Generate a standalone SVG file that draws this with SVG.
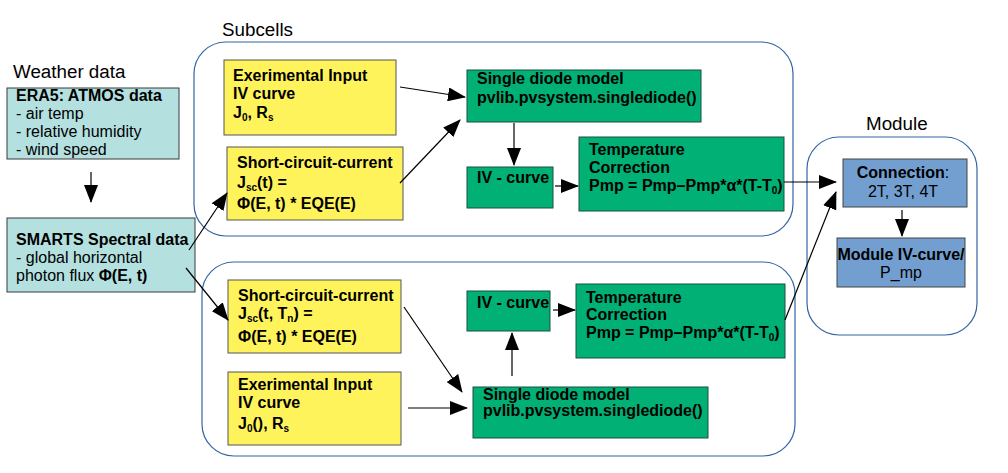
<svg xmlns="http://www.w3.org/2000/svg" width="1008" height="473" viewBox="0 0 1008 473">
<defs>
<marker id="ah" markerUnits="userSpaceOnUse" markerWidth="18" markerHeight="14" refX="17" refY="7" orient="auto">
<path d="M0,0 L18,7 L0,14 Z" fill="#000"/>
</marker>
<style>
.t{font-family:"Liberation Sans",Arial,sans-serif;font-size:16px;font-weight:bold;fill:#000}
.n{font-weight:normal}
.lbl{font-family:"Liberation Sans",Arial,sans-serif;font-size:18.8px;fill:#000}
.sub{font-size:10px}
.cont{fill:none;stroke:#3465a4;stroke-width:1.2}
.wb{fill:#b4e0e0;stroke:#3a3a3a;stroke-width:1}
.yb{fill:#fff35c;stroke:#555;stroke-width:1}
.gb{fill:#00b074;stroke:#1a5040;stroke-width:1}
.bb{fill:#729fcf;stroke:#444;stroke-width:1}
.c{stroke:#000;stroke-width:1.2;fill:none;marker-end:url(#ah)}
</style>
</defs>
<rect width="1008" height="473" fill="#fff"/>
<g id="containers">
<rect class="cont" x="194" y="42" width="599" height="194" rx="32"/>
<rect class="cont" x="202" y="262" width="593" height="194" rx="32"/>
<rect class="cont" x="807" y="137" width="170" height="198" rx="32"/>
<text class="lbl" x="13" y="78">Weather data</text>
<text class="lbl" x="222" y="36">Subcells</text>
<text class="lbl" x="866" y="130">Module</text>
</g>
<g id="era5">
<rect class="wb" x="7" y="88" width="172" height="71"/>
<text class="t" x="16" y="101">ERA5: ATMOS data</text>
<text class="t n" x="16" y="119">- air temp</text>
<text class="t n" x="16" y="137">- relative humidity</text>
<text class="t n" x="16" y="155">- wind speed</text>
</g>
<g id="smarts">
<rect class="wb" x="7" y="218" width="188" height="74"/>
<text class="t" x="16" y="245">SMARTS Spectral data</text>
<text class="t n" x="16" y="263">- global horizontal</text>
<text class="t n" x="16" y="281">photon flux <tspan font-weight="bold">Φ(E, t)</tspan></text>
</g>
<g id="top-exp">
<rect class="yb" x="224" y="60" width="172" height="75"/>
<text class="t" x="233" y="81">Exerimental Input</text>
<text class="t" x="233" y="99">IV curve</text>
<text class="t" x="233" y="118">J<tspan class="sub" dy="3">0</tspan><tspan dy="-3">, R</tspan><tspan class="sub" dy="3">s</tspan></text>
</g>
<g id="top-jsc">
<rect class="yb" x="227" y="147" width="176" height="73"/>
<text class="t" x="237" y="168">Short-circuit-current</text>
<text class="t" x="237" y="188">J<tspan class="sub" dy="3">sc</tspan><tspan dy="-3">(t) =</tspan></text>
<text class="t" x="237" y="209">Φ(E, t) * EQE(E)</text>
</g>
<g id="top-diode">
<rect class="gb" x="467" y="70" width="234" height="52"/>
<text class="t" x="477" y="84">Single diode model</text>
<text class="t" x="477" y="103">pvlib.pvsystem.singlediode()</text>
</g>
<g id="top-iv">
<rect class="gb" x="467" y="167" width="86" height="41"/>
<text class="t" x="477" y="183">IV - curve</text>
</g>
<g id="top-temp">
<rect class="gb" x="579" y="137" width="205" height="74"/>
<text class="t" x="589" y="155">Temperature</text>
<text class="t" x="589" y="173">Correction</text>
<text class="t" x="589" y="191">Pmp = Pmp–Pmp*α*(T-T<tspan class="sub" dy="3">0</tspan><tspan dy="-3">)</tspan></text>
</g>
<g id="bot-jsc">
<rect class="yb" x="228" y="280" width="173" height="73"/>
<text class="t" x="238" y="301">Short-circuit-current</text>
<text class="t" x="238" y="319">J<tspan class="sub" dy="3">sc</tspan><tspan dy="-3">(t, T</tspan><tspan class="sub" dy="3">n</tspan><tspan dy="-3">) =</tspan></text>
<text class="t" x="238" y="342">Φ(E, t) * EQE(E)</text>
</g>
<g id="bot-exp">
<rect class="yb" x="228" y="372" width="173" height="73"/>
<text class="t" x="238" y="390">Exerimental Input</text>
<text class="t" x="238" y="408">IV curve</text>
<text class="t" x="238" y="429">J<tspan class="sub" dy="3">0</tspan><tspan dy="-3">(), R</tspan><tspan class="sub" dy="3">s</tspan></text>
</g>
<g id="bot-iv">
<rect class="gb" x="467" y="291" width="83" height="40"/>
<text class="t" x="477" y="308">IV - curve</text>
</g>
<g id="bot-temp">
<rect class="gb" x="576" y="284" width="209" height="74"/>
<text class="t" x="586" y="303">Temperature</text>
<text class="t" x="586" y="320">Correction</text>
<text class="t" x="586" y="338">Pmp = Pmp–Pmp*α*(T-T<tspan class="sub" dy="3">0</tspan><tspan dy="-3">)</tspan></text>
</g>
<g id="bot-diode">
<rect class="gb" x="473" y="387" width="235" height="51"/>
<text class="t" x="483" y="400">Single diode model</text>
<text class="t" x="483" y="416">pvlib.pvsystem.singlediode()</text>
</g>
<g id="connection">
<rect class="bb" x="843" y="159" width="124" height="48"/>
<text class="t" x="903" y="178" text-anchor="middle">Connection<tspan font-weight="normal">:</tspan></text>
<text class="t n" x="903" y="197" text-anchor="middle">2T, 3T, 4T</text>
</g>
<g id="module-iv">
<rect class="bb" x="837" y="238" width="128" height="49"/>
<text class="t" x="901" y="260" text-anchor="middle">Module IV-curve/</text>
<text class="t n" x="901" y="278" text-anchor="middle">P_mp</text>
</g>
<g id="connectors">
<line class="c" x1="91" y1="172" x2="91" y2="202"/>
<line class="c" x1="189" y1="250" x2="227" y2="193"/>
<line class="c" x1="186" y1="268" x2="228" y2="320"/>
<line class="c" x1="400" y1="87" x2="465" y2="97"/>
<line class="c" x1="400" y1="183" x2="460" y2="120"/>
<line class="c" x1="514" y1="123" x2="514" y2="165"/>
<line class="c" x1="555" y1="186" x2="578" y2="186"/>
<line class="c" x1="784" y1="182" x2="836" y2="182"/>
<line class="c" x1="785" y1="320" x2="836" y2="192"/>
<line class="c" x1="553" y1="310" x2="575" y2="310"/>
<line class="c" x1="512" y1="376" x2="512" y2="333"/>
<line class="c" x1="404" y1="307" x2="462" y2="392"/>
<line class="c" x1="408" y1="408" x2="467" y2="408"/>
<line class="c" x1="902" y1="210" x2="902" y2="236"/>
</g>
</svg>
